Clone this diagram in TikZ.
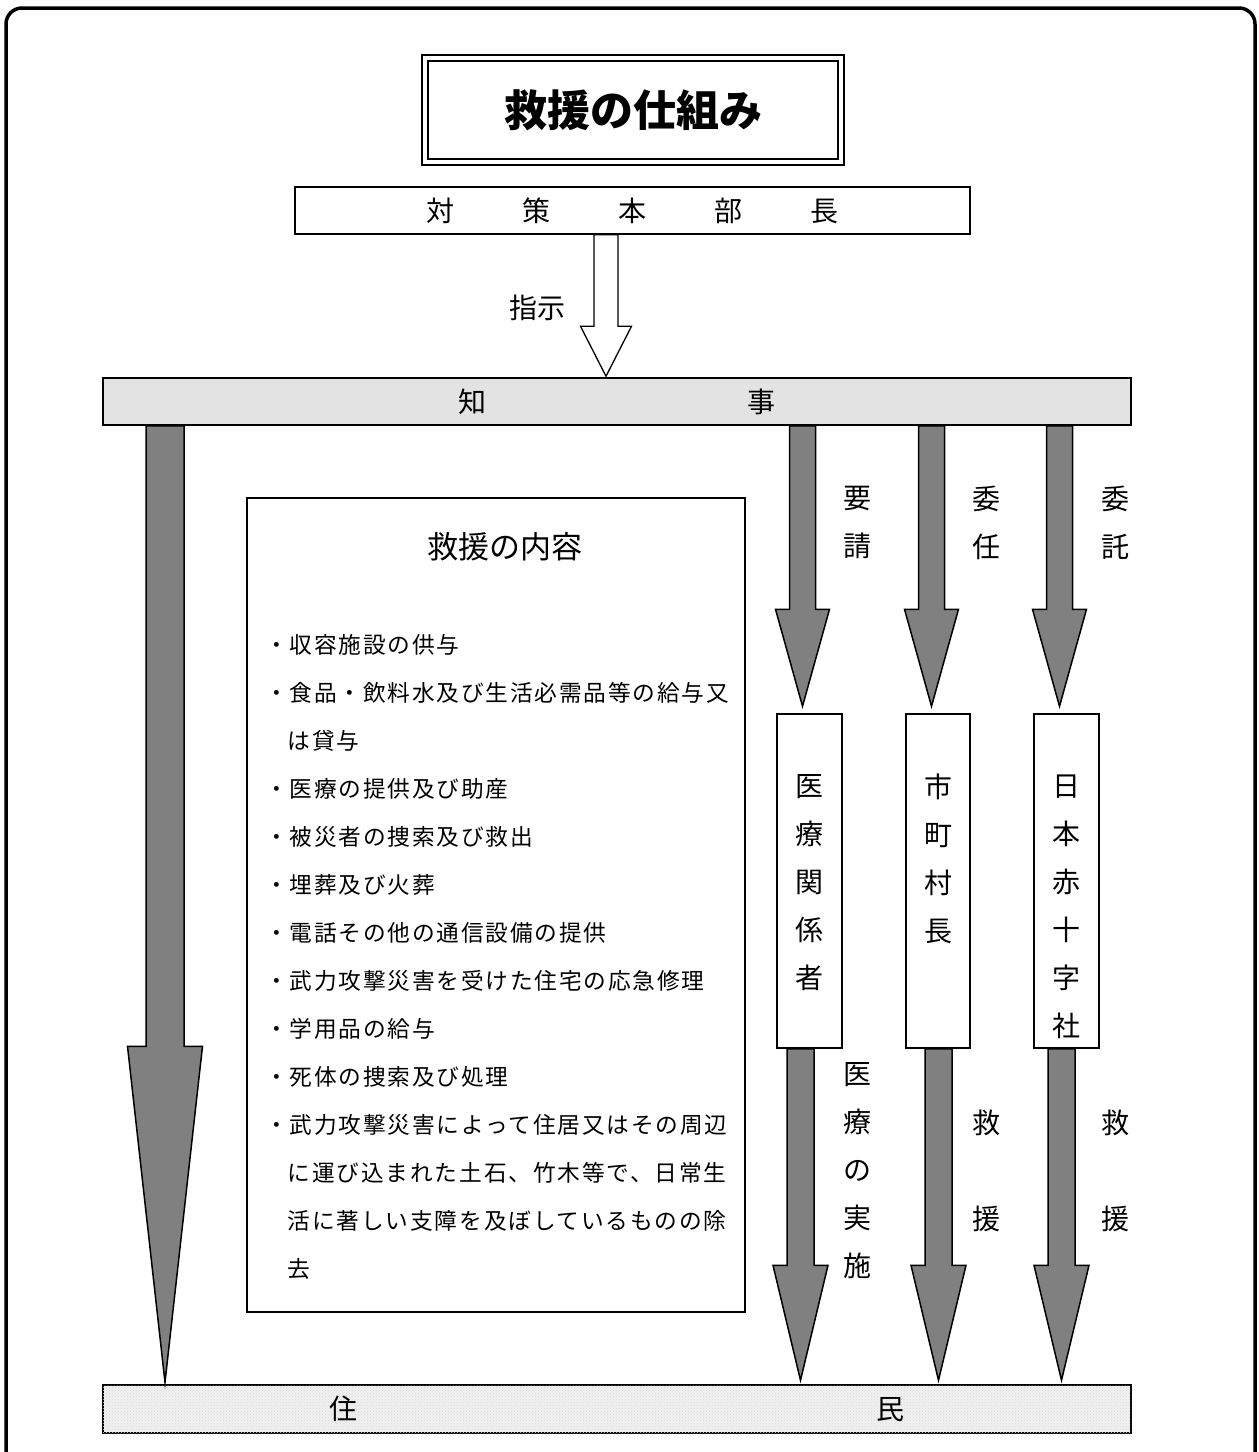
\documentclass[tikz,border=0pt]{standalone}
\usepackage{fontspec}
\setmainfont{Noto Sans CJK JP}
\newfontfamily\listfont{Noto Sans CJK JP}[LetterSpace=8]
\usetikzlibrary{calc,patterns}
\newcommand{\blockarrow}[6][]{%
  \filldraw[#1] let \p1=#2, \p2=#3 in
    (\x2-#4pt,\y1) -- (\x2-#4pt,\y2+#6pt) -- (\x2-#5pt,\y2+#6pt) -- (\x2,\y2)
    -- (\x2+#5pt,\y2+#6pt) -- (\x2+#4pt,\y2+#6pt) -- (\x2+#4pt,\y1) -- cycle;}
\tikzset{
  framebox/.style={draw, line width=1.5pt, inner sep=0pt},
  jtext/.style={font=\fontsize{28}{48}\selectfont, align=center, inner sep=0pt},
  grayarrow/.style={fill=black!50, draw=black, line width=1.5pt},
  whitearrow/.style={fill=white, draw=black, line width=1.3pt}
}
\begin{document}
\begin{tikzpicture}[x=1pt,y=-1pt]
\useasboundingbox (0,0) rectangle (1259,1452);
\clip (0,0) rectangle (1259,1452);
\draw[line width=3.5pt, rounded corners=16pt] (6,8) rectangle (1255,1470);

\node[framebox, double, double distance=4.5pt, minimum width=416pt, minimum height=104pt,
  font=\fontsize{43}{43}\selectfont\bfseries] (title) at (633,110) {救援の仕組み};
\node[framebox, minimum width=675pt, minimum height=47pt, font=\fontsize{28}{28}\selectfont] (taisaku) at (632.5,210.5)
  {対\hspace{68pt}策\hspace{68pt}本\hspace{68pt}部\hspace{68pt}長};
\node[framebox, fill=black!11, minimum width=1028pt, minimum height=47pt, font=\fontsize{28}{28}\selectfont] (chiji) at (617,401.5)
  {知\hspace{261pt}事};
\node[framebox, fill=black!6, postaction={pattern=crosshatch dots, pattern color=black!14},
  minimum width=1028pt, minimum height=48pt, font=\fontsize{28}{28}\selectfont] (jumin) at (617,1409)
  {住\hspace{519pt}民};

\node[framebox, minimum width=498pt, minimum height=814pt] (naiyo) at (496,905) {};
\node[jtext, font=\fontsize{31}{48}\selectfont] (naiyotitle) at (505,547) {救援の内容};
\node[inner sep=0pt, align=left, anchor=west, font=\listfont\fontsize{22.7}{48}\selectfont] (naiyolist) at (265,957)
  {・収容施設の供与\\
   ・食品・飲料水及び生活必需品等の給与又\\
   \hphantom{・}は貸与\\
   ・医療の提供及び助産\\
   ・被災者の捜索及び救出\\
   ・埋葬及び火葬\\
   ・電話その他の通信設備の提供\\
   ・武力攻撃災害を受けた住宅の応急修理\\
   ・学用品の給与\\
   ・死体の捜索及び処理\\
   ・武力攻撃災害によって住居又はその周辺\\
   \hphantom{・}に運び込まれた土石、竹木等で、日常生\\
   \hphantom{・}活に著しい支障を及ぼしているものの除\\
   \hphantom{・}去};

\node[framebox, minimum width=65pt, minimum height=334pt] (iryo) at (809.5,881) {};
\node[framebox, minimum width=64pt, minimum height=334pt] (chocho) at (938,881) {};
\node[framebox, minimum width=65pt, minimum height=334pt] (sekijuji) at (1066.5,881) {};
\node[jtext] (iryotext) at (809.5,883) {医\\療\\関\\係\\者};
\node[jtext] (chochotext) at (938,859) {市\\町\\村\\長};
\node[jtext] (sekijujitext) at (1066,907) {日\\本\\赤\\十\\字\\社};

\blockarrow[whitearrow]{(606,0 |- taisaku.south)}{($(606,0 |- chiji.north)+(0,-1)$)}{12}{25.5}{50}
\blockarrow[grayarrow]{(165,0 |- chiji.south)}{($(165,0 |- jumin.north)+(0,-2)$)}{19}{37.5}{336}
\blockarrow[grayarrow]{(802.5,0 |- chiji.south)}{($(802.5,0 |- iryo.north)+(0,-7)$)}{13}{27}{97}
\blockarrow[grayarrow]{(931.5,0 |- chiji.south)}{($(931.5,0 |- chocho.north)+(0,-7)$)}{13}{27}{97}
\blockarrow[grayarrow]{(1059.5,0 |- chiji.south)}{($(1059.5,0 |- sekijuji.north)+(0,-7)$)}{13}{27}{97}
\blockarrow[grayarrow]{(800.5,0 |- iryo.south)}{($(800.5,0 |- jumin.north)+(0,-4)$)}{13.5}{27.5}{115}
\blockarrow[grayarrow]{(938.5,0 |- chocho.south)}{($(938.5,0 |- jumin.north)+(0,-4)$)}{13.5}{27.5}{115}
\blockarrow[grayarrow]{(1061.5,0 |- sekijuji.south)}{($(1061.5,0 |- jumin.north)+(0,-4)$)}{13.5}{27.5}{115}

\node[jtext] (shiji) at (537,308) {指示};
\node[jtext] (yosei) at (857,522.5) {要\\請};
\node[jtext] (inin) at (986,522.5) {委\\任};
\node[jtext] (itaku) at (1115,522.5) {委\\託};
\node[jtext] (jisshi) at (857,1171) {医\\療\\の\\実\\施};
\node[jtext] (kyuen1) at (986,1171) {救\\[48pt]援};
\node[jtext] (kyuen2) at (1115,1171) {救\\[48pt]援};
\end{tikzpicture}
\end{document}
